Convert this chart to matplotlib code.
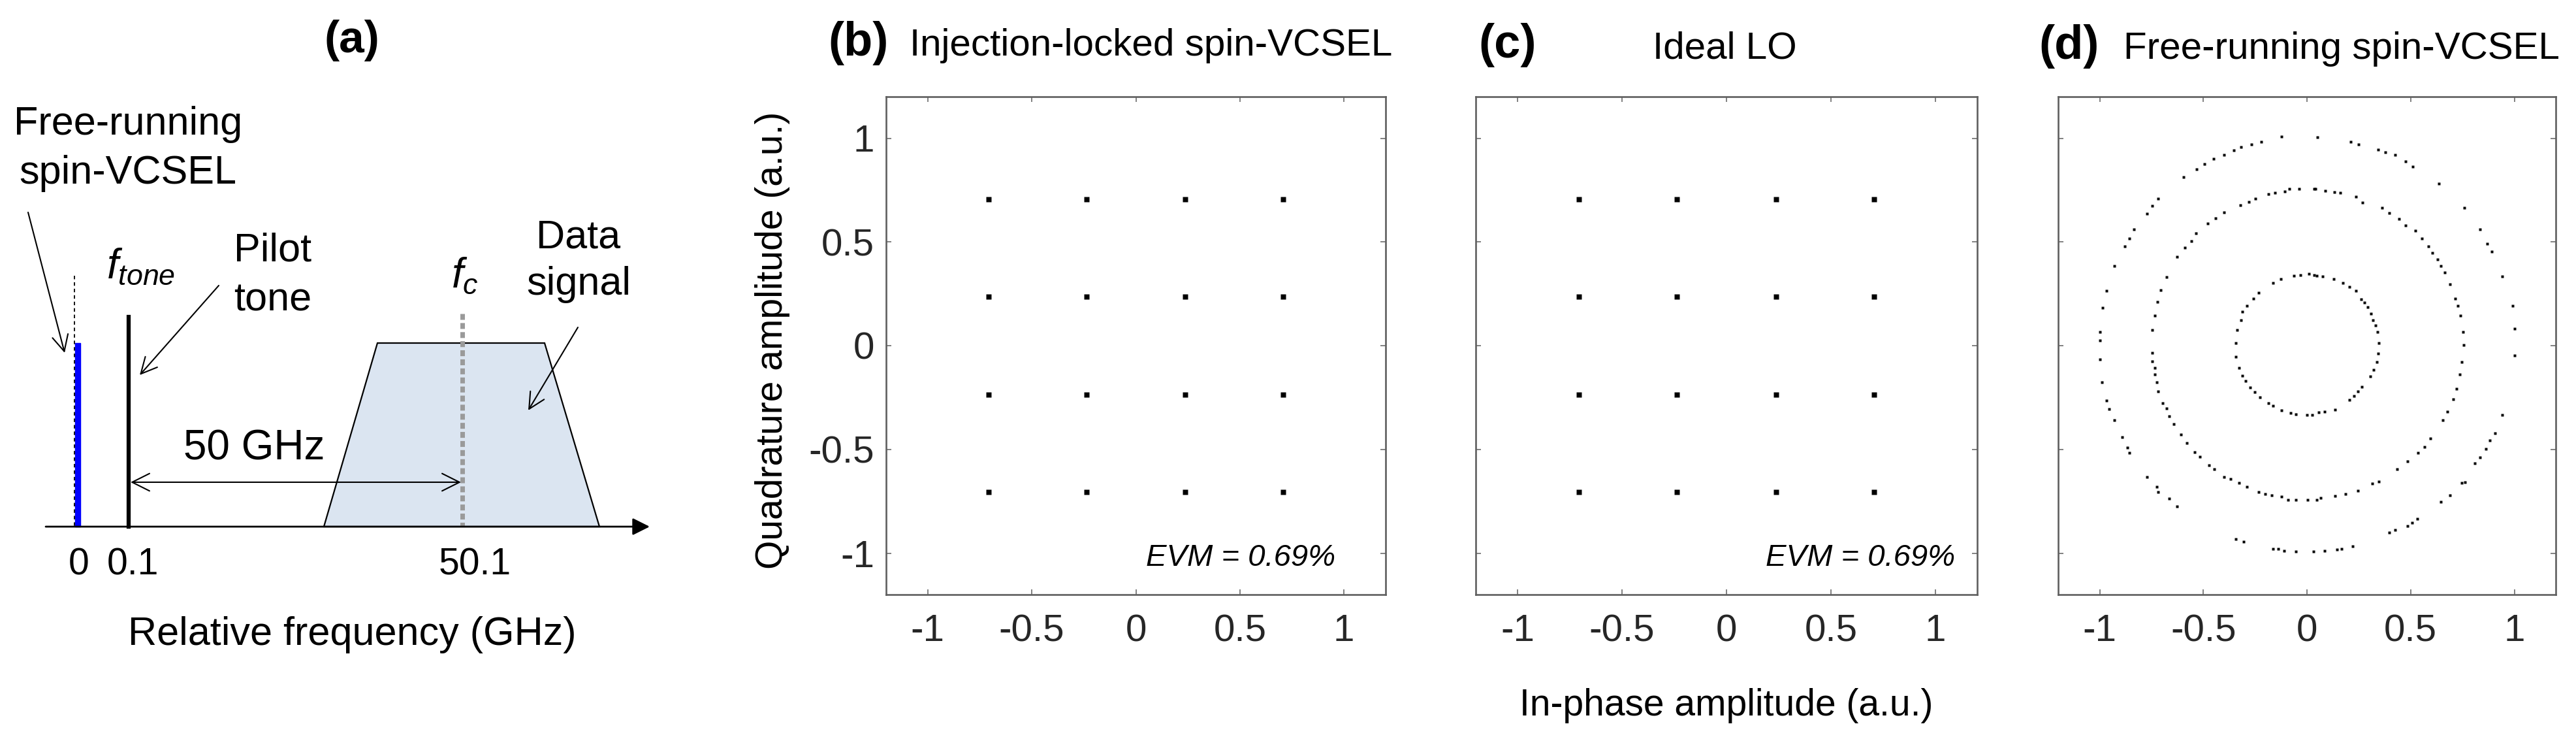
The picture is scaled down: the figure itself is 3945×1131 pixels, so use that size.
import matplotlib
matplotlib.use('Agg')
import matplotlib.pyplot as plt
from matplotlib.patches import Polygon, Rectangle
import numpy as np

plt.rcParams['font.family'] = ['Liberation Sans', 'DejaVu Sans']
plt.rcParams['mathtext.fontset'] = 'custom'
plt.rcParams['mathtext.it'] = 'Liberation Sans:italic'
plt.rcParams['mathtext.rm'] = 'Liberation Sans'
plt.rcParams['axes.unicode_minus'] = False

# ---------------- data ----------------
freq_tick_labels = ['0', '0.1', '50.1']
iq_ticks = [-1, -0.5, 0, 0.5, 1]
iq_tick_labels = ['-1', '-0.5', '0', '0.5', '1']
qam_levels = [-0.707, -0.236, 0.236, 0.707]
evm_text = 'EVM = 0.69%'

ring_outer = [(-0.122, 1.008), (0.051, 1.006), (-0.221, 0.982), (-0.269, 0.970), (-0.318, 0.956),
              (-0.353, 0.942), (-0.400, 0.919), (-0.449, 0.900), (-0.494, 0.875), (-0.531, 0.851),
              (-0.596, 0.812), (-0.718, 0.708), (-0.746, 0.673), (-0.773, 0.636), (-0.836, 0.561),
              (-0.857, 0.516), (-0.880, 0.479), (-0.930, 0.385), (-0.967, 0.264), (-0.986, 0.183),
              (-0.998, 0.065), (0.211, 0.982), (0.249, 0.970), (0.342, 0.944), (0.379, 0.932),
              (0.424, 0.919), (0.477, 0.888), (0.511, 0.862), (0.637, 0.781), (0.760, 0.663),
              (0.834, 0.561), (0.870, 0.492), (0.891, 0.453), (0.941, 0.334), (0.991, 0.193),
              (1.002, 0.083), (1.002, -0.048), (0.942, -0.334), (0.906, -0.422), (0.882, -0.458),
              (0.862, -0.498), (0.836, -0.538), (0.810, -0.568), (0.762, -0.658), (0.746, -0.662),
              (0.690, -0.722), (0.646, -0.754), (0.532, -0.834), (0.506, -0.854), (0.486, -0.868),
              (0.426, -0.888), (0.396, -0.902), (0.222, -0.968), (0.166, -0.978), (0.146, -0.982),
              (0.086, -0.988), (0.031, -0.991), (-0.054, -0.991), (-0.111, -0.988), (-0.138, -0.980),
              (-0.164, -0.980), (-0.306, -0.944), (-0.344, -0.931), (-0.626, -0.774), (-0.666, -0.737),
              (-0.717, -0.705), (-0.725, -0.679), (-0.773, -0.634), (-0.857, -0.517), (-0.867, -0.491),
              (-0.891, -0.440), (-0.930, -0.360), (-0.954, -0.307), (-0.967, -0.263), (-0.988, -0.176),
              (-0.998, -0.066), (-0.998, 0.026)]

ring_middle = [(0.036, 0.756), (-0.038, 0.756), (-0.085, 0.757), (-0.153, 0.736), (-0.185, 0.731),
               (-0.248, 0.710), (-0.279, 0.694), (-0.321, 0.678), (-0.400, 0.642), (-0.442, 0.615),
               (-0.479, 0.589), (-0.536, 0.542), (-0.557, 0.505), (-0.589, 0.474), (-0.626, 0.427),
               (-0.678, 0.332), (-0.705, 0.269), (-0.720, 0.212), (-0.734, 0.146), (-0.746, 0.075),
               (-0.106, 0.743), (0.041, 0.756), (0.088, 0.746), (0.132, 0.741), (0.160, 0.736),
               (0.235, 0.718), (0.267, 0.691), (0.361, 0.663), (0.398, 0.638), (0.445, 0.610),
               (0.477, 0.579), (0.524, 0.553), (0.555, 0.516), (0.587, 0.479), (0.605, 0.448),
               (0.629, 0.416), (0.645, 0.385), (0.666, 0.353), (0.690, 0.296), (0.716, 0.227),
               (0.727, 0.191), (0.739, 0.144), (0.752, 0.065), (0.756, 0.002), (0.746, -0.078),
               (0.736, -0.138), (0.722, -0.208), (0.706, -0.258), (0.676, -0.318), (0.656, -0.358),
               (0.596, -0.448), (0.566, -0.488), (0.536, -0.518), (0.486, -0.558), (0.436, -0.594),
               (0.346, -0.654), (0.316, -0.664), (0.246, -0.698), (0.186, -0.714), (0.136, -0.724),
               (0.066, -0.734), (-0.746, -0.035), (-0.746, -0.076), (-0.734, -0.108), (-0.734, -0.139),
               (-0.725, -0.176), (-0.717, -0.220), (-0.697, -0.278), (-0.678, -0.302), (-0.666, -0.339),
               (-0.642, -0.377), (-0.607, -0.428), (-0.579, -0.470), (-0.542, -0.512), (-0.516, -0.536),
               (-0.473, -0.575), (-0.447, -0.595), (-0.400, -0.632), (-0.369, -0.643), (-0.327, -0.661),
               (-0.290, -0.679), (-0.232, -0.705), (-0.201, -0.716), (-0.169, -0.721), (-0.122, -0.729),
               (-0.090, -0.742), (-0.054, -0.742), (0.004, -0.742), (0.046, -0.742)]

ring_inner = [(-0.164, 0.301), (-0.127, 0.322), (-0.064, 0.337), (-0.032, 0.341), (0.036, 0.341),
              (-0.232, 0.254), (-0.258, 0.227), (-0.290, 0.191), (-0.311, 0.165), (-0.318, 0.123),
              (-0.337, 0.075), (0.009, 0.345), (0.046, 0.337), (0.076, 0.334), (0.128, 0.322),
              (0.172, 0.303), (0.204, 0.282), (0.235, 0.264), (0.261, 0.225), (0.277, 0.207),
              (0.293, 0.186), (0.309, 0.154), (0.317, 0.123), (0.330, 0.097), (0.340, 0.065),
              (-0.344, 0.013), (-0.344, -0.053), (-0.327, -0.108), (-0.311, -0.145), (-0.295, -0.171),
              (-0.274, -0.202), (-0.253, -0.223), (-0.227, -0.249), (-0.185, -0.276), (-0.164, -0.291),
              (-0.122, -0.312), (-0.080, -0.323), (-0.054, -0.330), (-0.001, -0.333), (0.025, -0.333),
              (0.346, 0.012), (0.342, -0.038), (0.336, -0.078), (0.322, -0.118), (0.306, -0.148),
              (0.266, -0.198), (0.246, -0.222), (0.226, -0.242), (0.206, -0.262), (0.136, -0.308),
              (0.086, -0.318), (0.056, -0.322)]

# ---------------- figure ----------------
W, H = 3945, 1131
fig = plt.figure(figsize=(W / 100, H / 100), dpi=100)


def ftxt(x, y, s, **kw):
    return fig.text(x / W, 1 - y / H, s, **kw)


# ---------------- panel (a): schematic (pixel-like layout coords) ----------------
ax_a = fig.add_axes([0, 0, 1000 / W, 1])
ax_a.set_xlim(0, 1000)
ax_a.set_ylim(H, 0)
ax_a.axis('off')

base_y = 806
ax_a.add_patch(Polygon([(496, base_y), (578, 525), (834, 525), (918, base_y)], closed=True,
                       facecolor='#dbe5f1', edgecolor='black', lw=1.6, zorder=1))
ax_a.plot([708, 708], [480, base_y], color='#9a9a9a', lw=5, ls=(0, (1.3, 0.7)), zorder=2)
ax_a.add_patch(Rectangle((115, 525), 8, base_y - 525, color='#0000ff', zorder=2))
ax_a.plot([114, 114], [422, base_y], color='black', lw=1.3, ls=(0, (3, 2.5)), zorder=3)
ax_a.plot([197, 197], [485, base_y], color='black', lw=4.5, zorder=3)
ax_a.annotate('', xy=(995, base_y), xytext=(70, base_y),
              arrowprops=dict(arrowstyle='-|>', lw=2, color='black', mutation_scale=40,
                              shrinkA=0, shrinkB=0), zorder=4)
ax_a.annotate('', xy=(706, 738), xytext=(200, 738),
              arrowprops=dict(arrowstyle='<->', lw=1.5, color='black', mutation_scale=48,
                              shrinkA=0, shrinkB=0))
arr = dict(arrowstyle='->', lw=1.5, color='black', mutation_scale=44, shrinkA=0, shrinkB=0)
ax_a.annotate('', xy=(99, 540), xytext=(43, 325), arrowprops=arr)
ax_a.annotate('', xy=(214, 574), xytext=(335, 437), arrowprops=arr)
ax_a.annotate('', xy=(809, 628), xytext=(885, 501), arrowprops=arr)

fs_a = 44
ax_a.text(539, 80, '(a)', ha='center', va='baseline', fontsize=50, fontweight='bold')
ax_a.text(196, 206, 'Free-running', ha='center', va='baseline', fontsize=fs_a)
ax_a.text(196, 281, 'spin-VCSEL', ha='center', va='baseline', fontsize=fs_a)
ax_a.text(163, 426, r'$f_{tone}$', ha='left', va='baseline', fontsize=46)
ax_a.text(358, 400, 'Pilot', ha='left', va='baseline', fontsize=fs_a)
ax_a.text(358, 476, 'tone', ha='left', va='baseline', fontsize=fs_a)
ax_a.text(712, 440, r'$f_c$', ha='center', va='baseline', fontsize=46)
ax_a.text(886, 379, 'Data', ha='center', va='baseline', fontsize=fs_a)
ax_a.text(886, 451, 'signal', ha='center', va='baseline', fontsize=fs_a)
ax_a.text(389, 703, '50 GHz', ha='center', va='baseline', fontsize=46)
for lab, xp in zip(freq_tick_labels, [121, 203, 727]):
    ax_a.text(xp, 880, lab, ha='center', va='baseline', fontsize=41)
ax_a.text(539, 987, 'Relative frequency (GHz)', ha='center', va='baseline', fontsize=fs_a)

# ---------------- panels (b)-(d) ----------------
spine_c = '#5f5f5f'


def iq_axes(left_px, width_px, ylabels):
    ax = fig.add_axes([left_px / W, (H - 910) / H, width_px / W, (910 - 148) / H])
    ax.set_xlim(-1.2, 1.2)
    ax.set_ylim(-1.2, 1.2)
    ax.set_xticks(iq_ticks)
    ax.set_xticklabels(iq_tick_labels)
    ax.set_yticks(iq_ticks)
    ax.set_yticklabels(iq_tick_labels if ylabels else [])
    ax.tick_params(direction='in', length=5.8, width=1.1, color=spine_c, top=True, right=True,
                   labelsize=42, labelcolor='#262626')
    ax.tick_params(axis='x', pad=21)
    ax.tick_params(axis='y', pad=13)
    for sp in ax.spines.values():
        sp.set_color(spine_c)
        sp.set_linewidth(1.9)
    return ax


gi, gq = np.meshgrid(qam_levels, qam_levels)

ax_b = iq_axes(1357, 765, True)
ax_b.plot(gi.ravel(), gq.ravel(), 's', color='black', ms=5.2, mec='none')
ax_b.text(0.96, -1.06, evm_text, ha='right', va='baseline', fontsize=34, style='italic')

ax_c = iq_axes(2260, 768, False)
ax_c.plot(gi.ravel(), gq.ravel(), 's', color='black', ms=5.2, mec='none')
ax_c.text(1.095, -1.06, evm_text, ha='right', va='baseline', fontsize=34, style='italic')

ax_d = iq_axes(3152, 762, False)
for ring in (ring_outer, ring_middle, ring_inner):
    ri, rq = zip(*ring)
    ax_d.plot(ri, rq, 's', color='black', ms=3.4, mec='none')

# titles and labels
ftxt(1268, 85, '(b)', ha='left', va='baseline', fontsize=52, fontweight='bold')
ftxt(1393, 85, 'Injection-locked spin-VCSEL', ha='left', va='baseline', fontsize=42)
ftxt(2264, 88, '(c)', ha='left', va='baseline', fontsize=52, fontweight='bold')
ftxt(2641, 90, 'Ideal LO', ha='center', va='baseline', fontsize=42)
ftxt(3122, 90, '(d)', ha='left', va='baseline', fontsize=52, fontweight='bold')
ftxt(3252, 90, 'Free-running spin-VCSEL', ha='left', va='baseline', fontsize=42)

ftxt(1183, 521, 'Quadrature amplitude (a.u.)', ha='center', va='center', rotation=90, fontsize=41)
ftxt(2644, 1095, 'In-phase amplitude (a.u.)', ha='center', va='baseline', fontsize=41)

fig.savefig('out.png', dpi=100, facecolor='white')
